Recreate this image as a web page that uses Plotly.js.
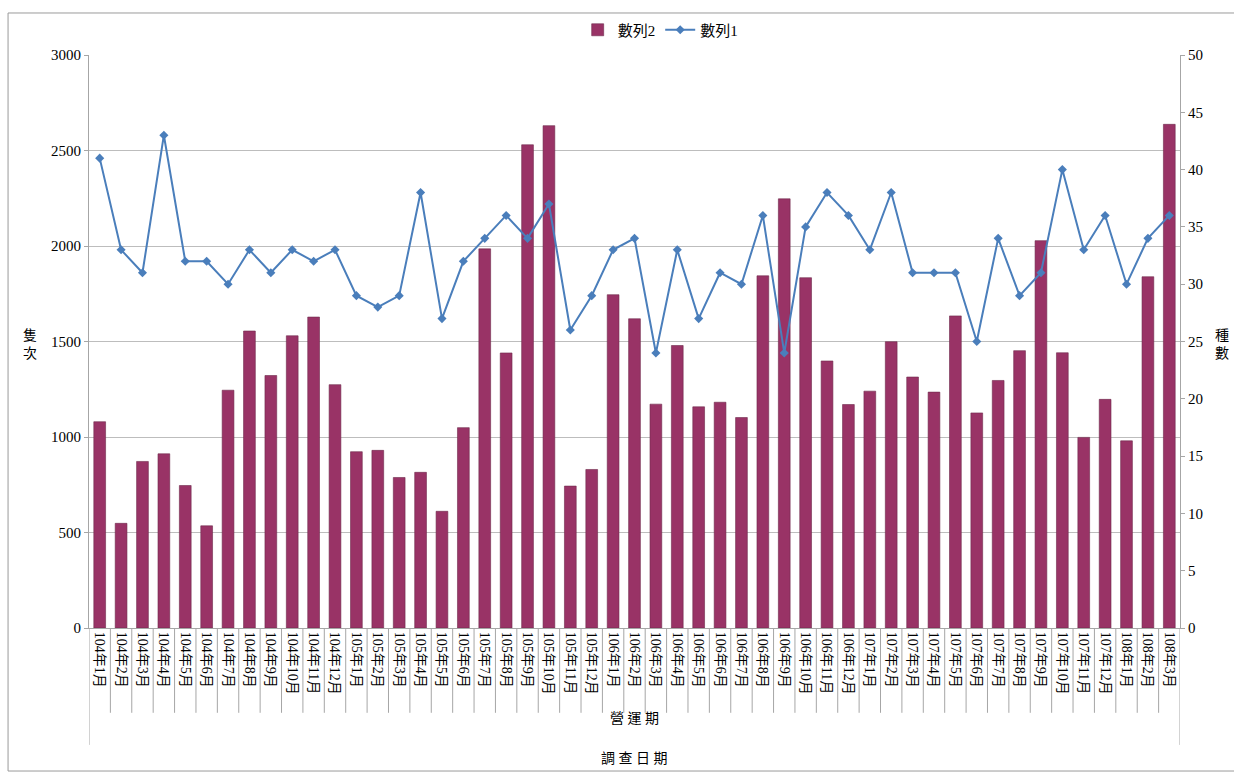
<!DOCTYPE html>
<html>
<head>
<meta charset="utf-8">
<script src="https://cdn.plot.ly/plotly-3.0.1.min.js"></script>
<style>
  html, body { margin: 0; padding: 0; background: #ffffff; }
  #chart { width: 1234px; height: 772px; }
</style>
</head>
<body>
<div id="chart"></div>
<script>
const categories = [
  "104年1月","104年2月","104年3月","104年4月","104年5月","104年6月","104年7月","104年8月","104年9月","104年10月","104年11月","104年12月",
  "105年1月","105年2月","105年3月","105年4月","105年5月","105年6月","105年7月","105年8月","105年9月","105年10月","105年11月","105年12月",
  "106年1月","106年2月","106年3月","106年4月","106年5月","106年6月","106年7月","106年8月","106年9月","106年10月","106年11月","106年12月",
  "107年1月","107年2月","107年3月","107年4月","107年5月","107年6月","107年7月","107年8月","107年9月","107年10月","107年11月","107年12月",
  "108年1月","108年2月","108年3月"
];
const series2 = [
  1080, 548, 872, 912, 746, 535, 1245, 1555, 1322, 1530, 1628, 1274,
  923, 930, 788, 815, 611, 1049, 1985, 1440, 2530, 2630, 743, 830,
  1745, 1619, 1172, 1479, 1158, 1182, 1102, 1844, 2247, 1834, 1398, 1170,
  1240, 1499, 1314, 1235, 1634, 1126, 1296, 1452, 2028, 1441, 998, 1197,
  980, 1839, 2637
];
const series1 = [
  41, 33, 31, 43, 32, 32, 30, 33, 31, 33, 32, 33,
  29, 28, 29, 38, 27, 32, 34, 36, 34, 37, 26, 29,
  33, 34, 24, 33, 27, 31, 30, 36, 24, 35, 38, 36,
  33, 38, 31, 31, 31, 25, 34, 29, 31, 40, 33, 36,
  30, 34, 36
];
const leftTicks = [0, 500, 1000, 1500, 2000, 2500, 3000];
const rightTicks = [0, 5, 10, 15, 20, 25, 30, 35, 40, 45, 50];

const FONT = '"Liberation Serif", "Noto Sans CJK TC", serif';

const traces = [
  {
    type: 'bar', name: '數列2', x: categories, y: series2,
    marker: { color: '#993366', line: { color: '#6e2a4c', width: 0.6 } },
    yaxis: 'y'
  },
  {
    type: 'scatter', mode: 'lines+markers', name: '數列1', x: categories, y: series1,
    line: { color: '#4a7ebb', width: 2 },
    marker: { symbol: 'diamond', size: 7, color: '#4a7ebb' },
    yaxis: 'y2'
  }
];

// category separator lines below axis + outer frame lines
const shapes = [];
for (let i = 0; i <= categories.length; i++) {
  const edge = (i === 0 || i === categories.length);
  shapes.push({
    type: 'line', xref: 'x', yref: 'paper',
    x0: i - 0.5, x1: i - 0.5, y0: 0, y1: edge ? -0.204 : -0.148,
    line: { color: '#a6a6a6', width: 1 }
  });
}
// figure border: top, left, bottom
const borderStyle = { color: '#9a9a9a', width: 1 };
shapes.push({ type: 'line', xref: 'paper', yref: 'paper', x0: -0.0742, x1: 1.1, y0: 1.0733, y1: 1.0733, line: borderStyle });
shapes.push({ type: 'line', xref: 'paper', yref: 'paper', x0: -0.0742, x1: -0.0742, y0: -0.2496, y1: 1.0733, line: borderStyle });
shapes.push({ type: 'line', xref: 'paper', yref: 'paper', x0: -0.0742, x1: 1.1, y0: -0.2496, y1: -0.2496, line: borderStyle });

const layout = {
  width: 1234, height: 772,
  margin: { l: 89, r: 54, t: 55, b: 144 },
  paper_bgcolor: '#ffffff', plot_bgcolor: '#ffffff',
  font: { family: FONT, size: 14, color: '#000000' },
  bargap: 0.45,
  showlegend: true,
  legend: {
    orientation: 'h', x: 0.524, xanchor: 'center', y: 1.0436, yanchor: 'middle',
    font: { family: FONT, size: 15, color: '#000' }, traceorder: 'normal',
    itemwidth: 30, bgcolor: 'rgba(0,0,0,0)'
  },
  xaxis: {
    type: 'category', tickangle: 90, ticks: '', showgrid: false,
    showline: true, linecolor: '#a6a6a6', linewidth: 1,
    tickfont: { family: FONT, size: 14, color: '#000' },
    range: [-0.5, categories.length - 0.5], fixedrange: true
  },
  yaxis: {
    range: [0, 3000], tickvals: leftTicks, ticktext: leftTicks.map(String),
    showgrid: true, gridcolor: '#bdbdbd', gridwidth: 1,
    showline: true, linecolor: '#a6a6a6', linewidth: 1,
    ticks: 'outside', ticklen: 4, tickcolor: '#a6a6a6',
    tickfont: { family: FONT, size: 15, color: '#000' }, zeroline: false
  },
  yaxis2: {
    range: [0, 50], tickvals: rightTicks, ticktext: rightTicks.map(String),
    overlaying: 'y', side: 'right', showgrid: false,
    showline: true, linecolor: '#a6a6a6', linewidth: 1,
    ticks: 'outside', ticklen: 4, tickcolor: '#a6a6a6',
    tickfont: { family: FONT, size: 15, color: '#000' }, zeroline: false
  },
  shapes: shapes,
  annotations: [
    { text: '隻<br>次', xref: 'paper', yref: 'paper', x: -0.054, y: 0.4956,
      xanchor: 'center', yanchor: 'middle',
      showarrow: false, font: { family: FONT, size: 14 }, align: 'center' },
    { text: '種<br>數', xref: 'paper', yref: 'paper', x: 1.0385, y: 0.4956,
      xanchor: 'center', yanchor: 'middle',
      showarrow: false, font: { family: FONT, size: 14 }, align: 'center' },
    { text: '營 運 期', xref: 'paper', yref: 'paper', x: 0.5, y: -0.1588,
      xanchor: 'center', yanchor: 'middle',
      showarrow: false, font: { family: FONT, size: 14 } },
    { text: '調 查 日 期', xref: 'paper', yref: 'paper', x: 0.5, y: -0.2269,
      xanchor: 'center', yanchor: 'middle',
      showarrow: false, font: { family: FONT, size: 14 } }
  ]
};

Plotly.newPlot('chart', traces, layout, { displayModeBar: false, staticPlot: true });
</script>
</body>
</html>
